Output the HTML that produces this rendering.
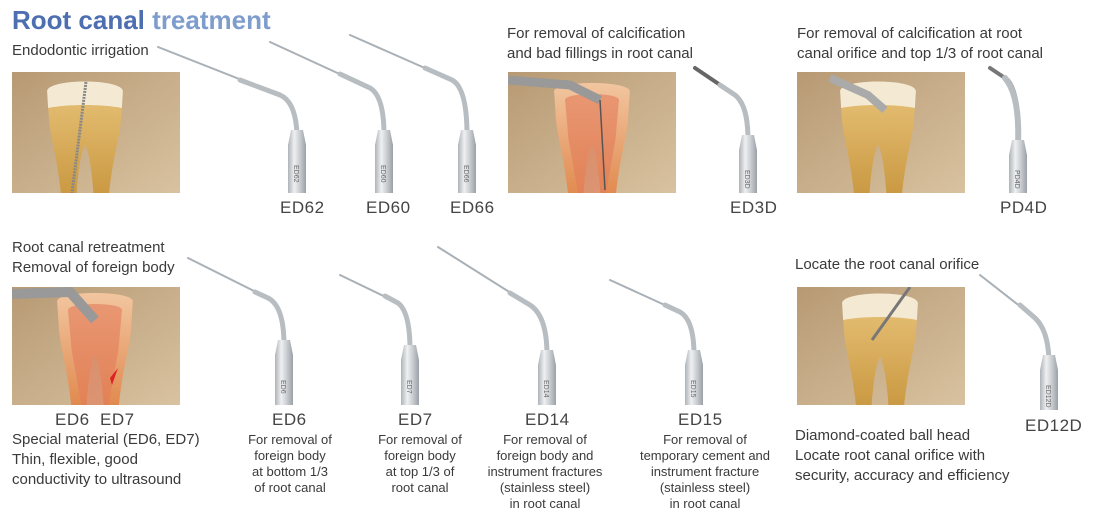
<!DOCTYPE html>
<html><head><meta charset="utf-8"><style>
body{margin:0;width:1107px;height:514px;background:#fff;position:relative;overflow:hidden;font-family:"Liberation Sans",Arial,sans-serif;color:#3a3a3a}
.t{position:absolute;font-size:15px;line-height:20px;white-space:nowrap}
.c{text-align:center;font-size:13px;line-height:16px}
.lb{position:absolute;font-size:17px;color:#444;letter-spacing:0.5px}
svg{position:absolute;left:0;top:0}
</style></head><body>
<div class="t" style="left:12px;top:4px;font-size:26px;line-height:32px;font-weight:bold"><span style="color:#4d6fb2">Root canal</span> <span style="color:#7f9dcc">treatment</span></div>
<div class="t" style="left:12px;top:41px">Endodontic irrigation</div>
<div class="t" style="left:507px;top:24px">For removal of calcification<br>and bad fillings in root canal</div>
<div class="t" style="left:797px;top:24px">For removal of calcification at root<br>canal orifice and top 1/3 of root canal</div>
<div class="t" style="left:12px;top:238px">Root canal retreatment<br>Removal of foreign body</div>
<div class="t" style="left:795px;top:255px">Locate the root canal orifice</div>
<div class="t" style="left:12px;top:430px">Special material (ED6, ED7)<br>Thin, flexible, good<br>conductivity to ultrasound</div>
<div class="t" style="left:795px;top:426px">Diamond-coated ball head<br>Locate root canal orifice with<br>security, accuracy and efficiency</div>
<div class="t c" style="left:230px;top:432px;width:120px">For removal of<br>foreign body<br>at bottom 1/3<br>of root canal</div>
<div class="t c" style="left:360px;top:432px;width:120px">For removal of<br>foreign body<br>at top 1/3 of<br>root canal</div>
<div class="t c" style="left:480px;top:432px;width:130px">For removal of<br>foreign body and<br>instrument fractures<br>(stainless steel)<br>in root canal</div>
<div class="t c" style="left:635px;top:432px;width:140px">For removal of<br>temporary cement and<br>instrument fracture<br>(stainless steel)<br>in root canal</div>
<div class="lb" style="left:280px;top:198px">ED62</div>
<div class="lb" style="left:366px;top:198px">ED60</div>
<div class="lb" style="left:450px;top:198px">ED66</div>
<div class="lb" style="left:730px;top:198px">ED3D</div>
<div class="lb" style="left:1000px;top:198px">PD4D</div>
<div class="lb" style="left:55px;top:410px">ED6&nbsp;&nbsp;ED7</div>
<div class="lb" style="left:272px;top:410px">ED6</div>
<div class="lb" style="left:398px;top:410px">ED7</div>
<div class="lb" style="left:525px;top:410px">ED14</div>
<div class="lb" style="left:678px;top:410px">ED15</div>
<div class="lb" style="left:1025px;top:416px">ED12D</div>
<svg width="1107" height="514" viewBox="0 0 1107 514">
<defs>
<linearGradient id="bg" x1="0" y1="0" x2="1" y2="1"><stop offset="0" stop-color="#b79a74"/><stop offset="1" stop-color="#d9c2a0"/></linearGradient>
<linearGradient id="mt" x1="0" x2="1"><stop offset="0" stop-color="#aeb3b8"/><stop offset=".35" stop-color="#eef0f2"/><stop offset=".7" stop-color="#c4c8cc"/><stop offset="1" stop-color="#9aa0a6"/></linearGradient>
<linearGradient id="rt" x1="0" x2="0" y1="0" y2="1"><stop offset="0" stop-color="#e8c37a"/><stop offset="1" stop-color="#c8963e"/></linearGradient>
<linearGradient id="rr" x1="0" x2="0" y1="0" y2="1"><stop offset="0" stop-color="#f2c6a0"/><stop offset="1" stop-color="#e0864a"/></linearGradient>
<g id="tooth"><path d="M-42,-48 C-45,-60 45,-60 42,-48 L40,-20 C38,0 30,20 26,60 L10,62 C8,30 4,10 0,5 C-4,10 -8,30 -10,62 L-26,60 C-30,20 -38,0 -40,-20Z" fill="url(#rt)"/><path d="M-42,-48 C-45,-62 45,-62 42,-48 L41,-32 C20,-36 -20,-36 -41,-32Z" fill="#f4ead4"/></g>
<g id="toothr"><path d="M-42,-48 C-45,-60 45,-60 42,-48 L40,-20 C38,0 30,20 26,60 L10,62 C8,30 4,10 0,5 C-4,10 -8,30 -10,62 L-26,60 C-30,20 -38,0 -40,-20Z" fill="url(#rr)"/><path d="M-30,-40 C-30,-48 30,-48 30,-40 L26,0 L15,55 L-15,55 L-26,0Z" fill="#e27b5a" opacity=".6"/></g>
<clipPath id="c1"><rect x="12" y="72" width="168" height="121"/></clipPath>
<clipPath id="c2"><rect x="508" y="72" width="168" height="121"/></clipPath>
<clipPath id="c3"><rect x="797" y="72" width="168" height="121"/></clipPath>
<clipPath id="c4"><rect x="12" y="287" width="168" height="118"/></clipPath>
<clipPath id="c5"><rect x="797" y="287" width="168" height="118"/></clipPath>
</defs>
<g clip-path="url(#c1)"><rect x="12" y="72" width="168" height="121" fill="url(#bg)"/>
<use href="#tooth" transform="translate(85,140) scale(.9,1)"/>
<line x1="86" y1="82" x2="72" y2="193" stroke="#888" stroke-width="3" stroke-dasharray="2 1"/></g>
<g clip-path="url(#c2)"><rect x="508" y="72" width="168" height="121" fill="url(#bg)"/>
<use href="#toothr" transform="translate(592,140) scale(.9,1)"/>
<path d="M508,80 L570,85 L600,100" stroke="#999" stroke-width="9" fill="none"/>
<line x1="600" y1="100" x2="605" y2="190" stroke="#555" stroke-width="1.5"/></g>
<g clip-path="url(#c3)"><rect x="797" y="72" width="168" height="121" fill="url(#bg)"/>
<use href="#tooth" transform="translate(878,140) scale(.9,1)"/>
<path d="M830,78 L868,95 L885,110" stroke="#aaa" stroke-width="8" fill="none"/></g>
<g clip-path="url(#c4)"><rect x="12" y="287" width="168" height="118" fill="url(#bg)"/>
<use href="#toothr" transform="translate(95,350) scale(.9,1)"/>
<path d="M12,294 L70,292 L95,320" stroke="#999" stroke-width="10" fill="none"/>
<path d="M110,378 L118,368 L112,385Z" fill="#d22"/></g>
<g clip-path="url(#c5)"><rect x="797" y="287" width="168" height="118" fill="url(#bg)"/>
<use href="#tooth" transform="translate(880,352) scale(.9,1)"/>
<path d="M910,287 L872,340" stroke="#777" stroke-width="3"/></g>
<g fill="none" stroke-linecap="round">
<path d="M158,47 L280,95 Q296,102 297,130" stroke="#a9b0b6" stroke-width="2"/><path d="M240,80 L280,95 Q296,102 297,135" stroke="#b8bdc2" stroke-width="5"/>
<path d="M270,42 L370,88 Q384,96 384,130" stroke="#a9b0b6" stroke-width="2"/><path d="M340,74 L370,88 Q384,96 384,135" stroke="#b8bdc2" stroke-width="5"/>
<path d="M350,35 L452,80 Q467,88 467,130" stroke="#a9b0b6" stroke-width="2"/><path d="M425,68 L452,80 Q467,88 467,135" stroke="#b8bdc2" stroke-width="5"/>
<path d="M695,68 L735,95 Q748,105 748,135" stroke="#666" stroke-width="4"/><path d="M720,85 L735,95 Q748,105 748,140" stroke="#b8bdc2" stroke-width="5"/>
<path d="M990,68 L1008,80 Q1020,95 1018,140" stroke="#777" stroke-width="4"/><path d="M1005,78 Q1020,95 1018,145" stroke="#b8bdc2" stroke-width="6"/>
<path d="M188,258 L268,298 Q284,306 284,340" stroke="#a9b0b6" stroke-width="2"/><path d="M255,292 L268,298 Q284,306 284,345" stroke="#b8bdc2" stroke-width="5"/>
<path d="M340,275 L398,303 Q410,312 410,345" stroke="#a9b0b6" stroke-width="2"/><path d="M385,296 L398,303 Q410,312 410,350" stroke="#b8bdc2" stroke-width="5"/>
<path d="M438,247 L530,305 Q547,316 547,350" stroke="#a9b0b6" stroke-width="2"/><path d="M510,293 L530,305 Q547,316 547,355" stroke="#b8bdc2" stroke-width="5"/>
<path d="M610,280 L680,312 Q694,320 694,350" stroke="#a9b0b6" stroke-width="2"/><path d="M665,305 L680,312 Q694,320 694,355" stroke="#b8bdc2" stroke-width="5"/>
<path d="M980,275 L1035,318 Q1048,330 1049,355" stroke="#a9b0b6" stroke-width="2"/><path d="M1020,305 L1035,318 Q1048,330 1049,360" stroke="#b8bdc2" stroke-width="5"/>
</g>
<g fill="url(#mt)">
<path d="M291,130 L303,130 L306,145 L306,193 L288,193 L288,145Z"/>
<path d="M378,130 L390,130 L393,145 L393,193 L375,193 L375,145Z"/>
<path d="M461,130 L473,130 L476,145 L476,193 L458,193 L458,145Z"/>
<path d="M742,135 L754,135 L757,150 L757,193 L739,193 L739,150Z"/>
<path d="M1012,140 L1024,140 L1027,155 L1027,193 L1009,193 L1009,155Z"/>
<path d="M278,340 L290,340 L293,355 L293,405 L275,405 L275,355Z"/>
<path d="M404,345 L416,345 L419,360 L419,405 L401,405 L401,360Z"/>
<path d="M541,350 L553,350 L556,365 L556,405 L538,405 L538,365Z"/>
<path d="M688,350 L700,350 L703,365 L703,405 L685,405 L685,365Z"/>
<path d="M1043,355 L1055,355 L1058,370 L1058,410 L1040,410 L1040,370Z"/>
</g>
<g font-family="Liberation Sans" font-size="7" fill="#666">
<text transform="translate(294,165) rotate(90)">ED62</text><text transform="translate(381,165) rotate(90)">ED60</text><text transform="translate(464,165) rotate(90)">ED66</text>
<text transform="translate(745,170) rotate(90)">ED3D</text><text transform="translate(1015,170) rotate(90)">PD4D</text>
<text transform="translate(281,380) rotate(90)">ED6</text><text transform="translate(407,380) rotate(90)">ED7</text><text transform="translate(544,380) rotate(90)">ED14</text><text transform="translate(691,380) rotate(90)">ED15</text><text transform="translate(1046,385) rotate(90)">ED12D</text>
</g>
</svg>
</body></html>
